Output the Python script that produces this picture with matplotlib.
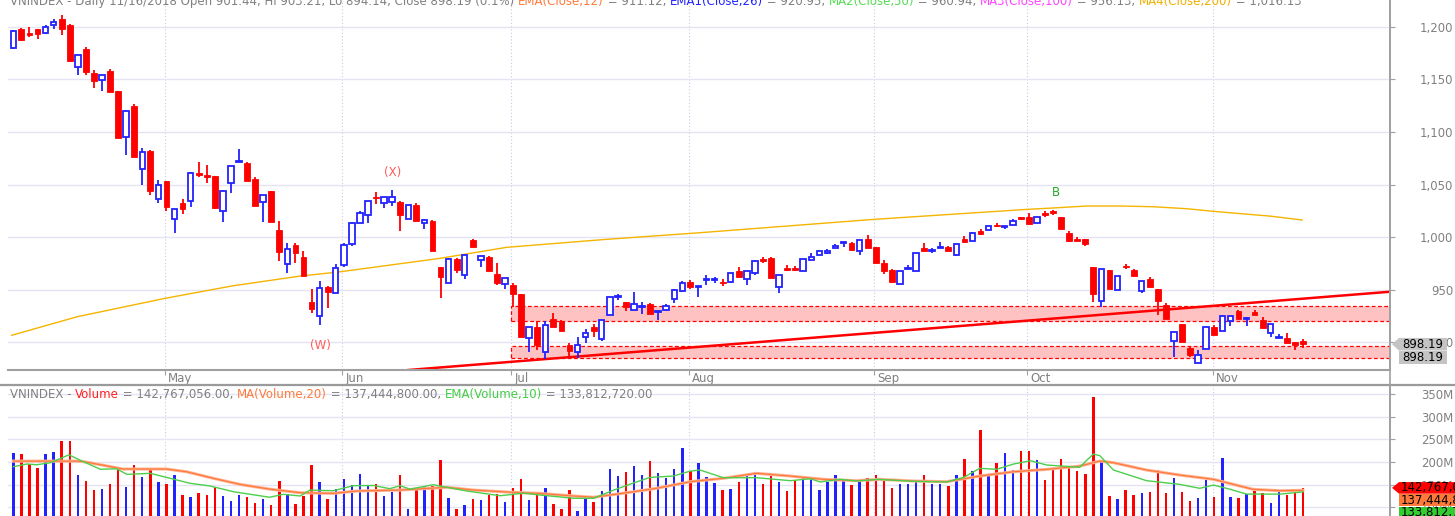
import matplotlib
matplotlib.use("Agg")
import matplotlib.pyplot as plt
from matplotlib.patches import Rectangle, Polygon
from matplotlib.lines import Line2D
from matplotlib.ticker import FuncFormatter
import numpy as np

# ---------------- data ----------------
opens = [1180, 1197.5, 1193.7, 1197.5, 1193.7, 1202, 1207.6, 1201.9, 1162, 1178.5,
         1156.3, 1149.3, 1158.2, 1138.6, 1095.5, 1124.6, 1064.4, 1082.2, 1036.5, 1053,
         1017.5, 1032.1, 1034, 1060.6, 1058.7, 1058.1, 1025.1, 1051.1, 1071.6, 1070.7,
         1055.6, 1033.4, 1043.6, 1006.7, 974.4, 992.2, 981.4, 938.3, 925.5, 952.8,
         947.1, 973.2, 993.4, 1013.5, 1020.7, 1038.5, 1032.1, 1033.4, 1033.4, 1017.5,
         1030.2, 1013, 1015.6, 971.3, 956.7, 979.5, 963.7, 997.3, 978.2, 981.4,
         964.9, 955.4, 954.7, 945.9, 903.8, 914.2, 890.8, 922.5, 920, 897.7,
         890.8, 904.8, 914.2, 903.4, 925.6, 942.8, 938.3, 930.7, 933.8, 936.4,
         928.8, 930.7, 940.8, 948.5, 957.3, 952.8, 959.2, 959.2, 957.3, 957.3,
         968.1, 960.5, 966.2, 979.5, 980.2, 952.3, 970.6, 970.6, 968.1, 978.2,
         983.3, 985.2, 989.6, 994.1, 994.7, 987.1, 998.5, 990.3, 975.1, 968.7,
         955.4, 969.4, 968.1, 989.6, 986.5, 989.6, 990.9, 982.6, 998.5, 996.6,
         1006.1, 1006.7, 1011.8, 1009.3, 1011.8, 1018.8, 1019.4, 1013.7, 1022.6, 1025.1,
         1019.4, 1004.2, 998.5, 997.9, 971.3, 939.1, 968.7, 949.7, 972.5, 968.7,
         949.1, 960.5, 950.4, 935.2, 901.5, 917.4, 894.3, 880.6, 893.4, 914.2,
         910.5, 920, 930.2, 921.9, 928.8, 921.2, 908.6, 904.1, 904.1, 900.3,
         901.44]

highs = [1197, 1199, 1200, 1198, 1201.3, 1207, 1210.8, 1202.5, 1173.4, 1180.4,
         1158.8, 1154.5, 1159.5, 1139, 1120.5, 1126.5, 1084.7, 1082.5, 1054.3, 1053.5,
         1026.5, 1036, 1061.5, 1071.4, 1068.8, 1058.5, 1044.5, 1067.5, 1083.5, 1071,
         1057.5, 1040.3, 1044, 1015, 994, 994.7, 986.5, 950.4, 958, 953.5,
         974.4, 994, 1014, 1024.8, 1034.3, 1042.9, 1038.5, 1044.8, 1034, 1030.2,
         1032, 1017.5, 1016, 972, 980, 980, 983, 998, 982, 982.5,
         975.1, 960.9, 956, 946, 914.8, 920.5, 920, 928.1, 921.5, 899,
         904.8, 913, 917.4, 921.2, 942.8, 945.9, 938.5, 947.8, 938.3, 937,
         929.4, 936.4, 951, 958.5, 959.2, 953.5, 964.3, 962.4, 959.9, 965.6,
         971.8, 968.1, 978.2, 980.8, 980.8, 963.7, 973.8, 972.5, 979, 985.2,
         987.7, 988.4, 993.4, 994.8, 995, 997.5, 1002.3, 990.5, 978.2, 969.9,
         968.1, 973.2, 984.6, 994.7, 989.6, 995.3, 991.5, 993.5, 1001, 1004.5,
         1007.4, 1010.8, 1013.7, 1009.9, 1016.9, 1019.4, 1023.3, 1019.5, 1024.5, 1025.7,
         1019.5, 1005.5, 999.8, 998, 971.5, 970.1, 969, 963, 974.4, 969.9,
         958, 962.4, 950.5, 937.6, 909.8, 917.5, 896.5, 892.7, 914.2, 916.1,
         926.3, 925, 930.5, 923.8, 930.7, 924.4, 917.4, 907.9, 908.6, 900.5,
         903.21]

lows = [1179, 1186, 1190.5, 1188, 1193, 1198, 1192.4, 1166.5, 1153.8, 1154.4,
        1141.7, 1139.2, 1137.5, 1094, 1078.3, 1076, 1049.8, 1040.3, 1032.1, 1025.1,
        1003.6, 1022, 1028.9, 1057.4, 1051.7, 1026.5, 1014.3, 1042.2, 1071.2, 1053,
        1029.6, 1014.3, 1014, 977, 966.2, 975.1, 963, 927.6, 916.2, 932.6,
        946.5, 972, 992, 1013, 1013.7, 1031.5, 1027.6, 1029.6, 1005.5, 1017,
        1015, 1007.4, 987, 942, 956, 966.2, 960, 990.3, 971.3, 968.1,
        954.7, 950.4, 933.8, 905, 890.8, 892.7, 884.4, 914.8, 910.5, 886.4,
        885, 899.6, 905.4, 901.5, 925.6, 940, 930, 930.5, 926.9, 926.9,
        921.2, 929.5, 937.6, 948, 951, 943.3, 954.2, 956.7, 953.5, 956.1,
        962.4, 954.7, 963.7, 975.1, 961, 947.1, 968, 967.5, 968, 978,
        982.6, 984, 989.5, 990.3, 987.5, 982.6, 989.5, 975.5, 964.9, 957,
        955, 969.3, 968, 987.1, 985.2, 989.5, 987.1, 982.5, 995, 996.5,
        1002.3, 1006.5, 1009.9, 1007.4, 1011.5, 1016.5, 1012.4, 1013.5, 1018.8, 1021.3,
        1007.4, 995.3, 996, 991.5, 938.3, 933.8, 950.9, 949.5, 969.4, 963,
        946.6, 952.8, 926.3, 922.4, 885.7, 900.3, 885.7, 880.5, 893.3, 907.2,
        910.4, 915.5, 921.9, 915.5, 926.3, 913.6, 904.8, 904, 899.6, 892.7,
        894.14]

closes = [1196, 1187.4, 1191.8, 1193, 1200, 1204.5, 1198, 1167.1, 1173.4, 1156.9,
          1148.1, 1153.8, 1137.9, 1094.2, 1120.2, 1076.4, 1080.9, 1044.1, 1049.8, 1028.3,
          1026.4, 1026.4, 1061.3, 1059.3, 1056.8, 1027.7, 1044.1, 1067.2, 1072.6, 1053.6,
          1029.6, 1040.3, 1014.3, 985.8, 989, 985.2, 963, 931.4, 951.6, 947.8,
          970.6, 992.2, 1013.7, 1023, 1034.3, 1036.9, 1038.5, 1038.5, 1020.7, 1030.2,
          1015, 1016.3, 987.1, 962.4, 979.6, 968.7, 982.6, 990.3, 982, 968.1,
          956.7, 960.9, 945.9, 905.3, 914.8, 897.7, 916.7, 914.8, 910.5, 892,
          897.7, 909.2, 910.5, 921.2, 942.8, 943.3, 933.3, 936.4, 934.5, 926.9,
          929.4, 934.5, 949.7, 956.7, 952.8, 953.5, 959.9, 959.9, 956.1, 965.6,
          962.4, 968.1, 977.6, 977.6, 961.2, 963.7, 968.7, 968.7, 978.9, 981.4,
          987.1, 986.5, 991.5, 994.7, 987.7, 997.3, 989.6, 975.7, 967.5, 957.3,
          968.1, 970.1, 984.6, 987.1, 987.1, 990.9, 987.1, 993.4, 995.3, 1004.2,
          1002.9, 1010.6, 1010.6, 1009.9, 1015.6, 1016.9, 1012.4, 1019.4, 1021.3, 1023.2,
          1007.4, 996, 996, 993.4, 945.9, 970.1, 950.9, 963, 971.3, 963,
          958, 952.8, 939.1, 922.4, 909.8, 900.3, 888.2, 888.2, 914.2, 907.2,
          925, 925, 921.9, 922.5, 926.3, 913.6, 917.4, 904.8, 899.6, 897.1,
          898.19]

volumes_m = [220.6, 218, 195, 187, 218, 222, 246, 246, 170.5, 158.7,
             138.7, 140, 152, 185, 144.7, 194, 166.8, 183.8, 155, 152,
             171, 126, 122, 132, 126, 144.7, 124.8, 114.4, 126.7, 122.6,
             108.6, 118, 104, 158, 128.5, 106.4, 124.8, 192.6, 156.5, 118,
             140, 162.4, 148.4, 174, 148.4, 152, 124.8, 134, 170.5, 96,
             138, 147, 147, 204.4, 121, 95.6, 104.9, 118.8, 116.6, 126,
             130, 110.8, 142.5, 162.4, 116.6, 130, 141.8, 106.4, 95.6, 138.7,
             92.3, 122.6, 112, 136.5, 184.5, 169, 178.5, 190.5, 171, 202.2,
             176.4, 165.3, 184.5, 230.3, 180.8, 198.5, 166.8, 154.2, 138.7, 140,
             156.5, 172, 178.5, 150.6, 169.7, 156.5, 136.5, 160, 166, 166,
             138.7, 155, 172, 160, 148.4, 156.5, 164, 172, 162.4, 142.5,
             152, 150.6, 160, 170.5, 150.6, 150.6, 147, 172, 206.6, 180,
             272, 170.5, 198.5, 220.6, 182.3, 224.3, 224.3, 203.7, 160, 183.8,
             206.6, 187.4, 180, 172.7, 344.5, 204.4, 124.8, 118, 138.7, 126,
             132, 134, 182.3, 132, 164.6, 134, 114.4, 121, 160, 122.6,
             208.2, 122.6, 121, 128.5, 136.5, 132, 108.6, 134, 126, 136.5,
             142.767]

# MA(Close,200) read at a set of bar positions
ma200_x = [-0.2, 7.9, 18.8, 27.3, 35.6, 40.5, 52.9, 61.2, 73.6, 85.2, 107, 125.8,
           129, 133.2, 137.3, 141.4, 145.6, 148.9, 151.8, 155.9, 159.9]
ma200_v = [906.7, 924.3, 941.8, 953.8, 963, 967, 979.8, 990.3, 997.9, 1004.2, 1017, 1026.4,
           1027.7, 1029.6, 1029.6, 1028.9, 1027, 1024.5, 1022.6, 1020, 1016.3]

# MA(Volume,20) and EMA(Volume,10), millions, read at bar positions
vma_x = [0, 7.9, 8.7, 11, 13.6, 19, 21.5, 24.8, 28.1, 31.8, 35.6, 39.7, 42.6, 48, 53.8,
         57.1, 61.2, 65.3, 69.5, 72, 76.1, 79.8, 84, 88.1, 92.2, 96.4, 100.5, 104.6,
         107.5, 111.7, 115.8, 119.9, 124.1, 128.2, 132.3, 134.8, 136.5, 140.6, 144.7,
         148.9, 153.8, 157.2, 160]
vma_v = [202, 202, 201, 193.4, 184.5, 184.5, 178.5, 164, 150.6, 140, 132, 130.6, 135.8, 138, 144,
         138, 133.6, 130.6, 124.8, 122, 132, 141.8, 156.5, 164, 175, 169, 161.7, 158.7,
         161.7, 158, 156.5, 169, 178.5, 183.8, 191, 202.2, 198.5, 182.3, 171.2,
         161.7, 139.6, 136.5, 137.44]
vema_x = [0, 1.7, 2.9, 4.6, 6.9, 8.7, 10.8, 12.8, 14.1, 17, 19, 21.9, 24.4, 27.3, 31.8, 33.5,
          35.6, 36.8, 39.7, 42.2, 44.7, 46.7, 48, 49.2, 52.1, 56.2, 60.4, 63.3, 65.3, 69.5,
          72, 74.5, 77, 79, 81.9, 84, 85.2, 88.1, 92.2, 96.4, 98.9, 100.1, 102.6, 104.6,
          107.3, 111.7, 115.8, 117.9, 119.9, 122, 124.1, 126.2, 128.2, 132.3, 133.2, 134,
          134.8, 136.5, 140.6, 144.7, 147.2, 148.9, 150.9, 153, 157.2, 160]
vema_v = [189.7, 195.6, 194, 198.5, 216, 200.7, 184, 185, 172.7, 175, 166, 153, 147, 134.3, 122, 128.5,
          124.8, 138, 136.5, 147.6, 148, 141, 147.6, 140, 149.8, 136, 125.4, 131, 127, 119.7,
          119.7, 138, 154, 166, 169, 180, 182.3, 165.3, 165.3, 158.7, 163, 155.8, 161.7, 158,
          161.7, 157.3, 155.8, 166, 186, 184, 195.6, 202.9, 193.4, 188.3, 204.4, 217.7,
          214, 182.3, 158.7, 150.6, 141.8, 149, 140, 129, 129, 133.81]

# trend line anchors and support/resistance zones
trend_pts = [(85.2, 895.8), (170.8, 948.1)]
zone_start = 61.75
zones = [(920.3, 934.2), (884.8, 896.5)]

month_pos = [18.8, 40.8, 61.8, 83.8, 106.8, 125.8, 148.8]
month_names = ["May", "Jun", "Jul", "Aug", "Sep", "Oct", "Nov"]

price_ticks = [900, 950, 1000, 1050, 1100, 1150, 1200]
vol_ticks = [100, 150, 200, 250, 300, 350]

wave_labels = [("(W)", 38.05, 897.4, "#ff5a5a"), ("(X)", 47.0, 1061.2, "#ff5a5a"),
               ("B", 129.3, 1042.2, "#22aa22")]

last_close = 898.19
last_vol, last_vma, last_vema = 142.767, 137.4448, 133.81272

# ---------------- figure ----------------
W, H = 1455, 516
fig = plt.figure(figsize=(W / 100, H / 100), dpi=100)
fig.patch.set_facecolor("white")


def px_axes(x0, y0, x1, y1, **kw):
    return fig.add_axes([x0 / W, 1 - y1 / H, (x1 - x0) / W, (y1 - y0) / H], **kw)


AX_L, AX_R, P_TOP, P_BOT, V_TOP, V_BOT = 8, 1390, 0, 370, 385, 516
ax = px_axes(AX_L, P_TOP, AX_R, P_BOT)
axv = px_axes(AX_L, V_TOP, AX_R, V_BOT)

XMIN, XMAX = -0.66, 170.8
P_LO, P_HI = 873.7, 1225.4
V_LO, V_HI = 80.5, 370.6

BLUE = "#2222ff"
RED = "#ff0000"
GRAY = "#808080"
GRID = "#e4e4f4"
FS = 8.5

o = np.array(opens); h = np.array(highs); l = np.array(lows); c = np.array(closes)
vol = np.array(volumes_m)
assert len(o) == len(h) == len(l) == len(c) == len(vol)
idx = np.arange(len(o))
up = c >= o

for a in (ax, axv):
    a.set_xlim(XMIN, XMAX)
    a.set_facecolor("white")
    for s in ("top", "left"):
        a.spines[s].set_visible(False)
    a.spines["right"].set_color("#a0a0a0")
    a.spines["right"].set_linewidth(1.2)
    a.set_xticks(month_pos)
    a.grid(axis="x", color="#c8c8e6", lw=0.8, ls=(0, (1, 2)))
    a.grid(axis="y", color=GRID, lw=1.0, ls="-")
    a.set_axisbelow(True)
    a.yaxis.tick_right()
    a.tick_params(axis="y", which="both", right=True, left=False, labelright=True,
                  labelleft=False, length=3.6, pad=41.76, color="#a0a0a0",
                  labelcolor=GRAY, labelsize=FS)

ax.spines["bottom"].set_color("#a0a0a0")
ax.spines["bottom"].set_linewidth(1.5)
axv.spines["bottom"].set_visible(False)
ax.tick_params(axis="x", length=3.6, color="#a0a0a0", labelbottom=False)
axv.tick_params(axis="x", length=0, labelbottom=False)

# price panel
ax.set_ylim(P_LO, P_HI)
ax.set_yticks(price_ticks)
ax.yaxis.set_major_formatter(FuncFormatter(lambda v, p: f"{v:,.0f}"))
for t in ax.get_yticklabels():
    t.set_horizontalalignment("right")

for lo_, hi_ in zones:
    ax.add_patch(Rectangle((zone_start, lo_), XMAX + 1 - zone_start, hi_ - lo_,
                           facecolor="#ffc2c2", edgecolor=RED, lw=0.9, ls=(0, (3, 2)),
                           zorder=1.5))

ax.plot(ma200_x, ma200_v, color="#f5b400", lw=1.0, zorder=2)
ax.axline(trend_pts[0], trend_pts[1], color=RED, lw=1.8, zorder=2.5)

wick_cols = [BLUE if u else RED for u in up]
ax.vlines(idx, l, h, colors=wick_cols, lw=1.3, zorder=3)
body_lo = np.minimum(o, c)
body_h = np.maximum(np.abs(c - o), 0.9)
ax.bar(idx[up], body_h[up], bottom=body_lo[up], width=0.68, facecolor="white",
       edgecolor=BLUE, linewidth=1.3, zorder=4)
ax.bar(idx[~up], body_h[~up], bottom=body_lo[~up], width=0.72, facecolor=RED,
       edgecolor=RED, linewidth=0.6, zorder=4)

for txt, xi, yv, col in wave_labels:
    ax.text(xi, yv, txt, ha="center", va="center", color=col, fontsize=FS, zorder=5)

for pos, name in zip(month_pos, month_names):
    ax.annotate(name, xy=(pos, 0), xycoords=("data", "axes fraction"), xytext=(3, -2),
                textcoords="offset pixels", ha="left", va="top", fontsize=FS, color=GRAY,
                annotation_clip=False)

# volume panel
axv.set_ylim(V_LO, V_HI)
axv.set_yticks(vol_ticks)
axv.yaxis.set_major_formatter(FuncFormatter(lambda v, p: f"{v:.0f}M"))
for t in axv.get_yticklabels():
    t.set_horizontalalignment("right")
axv.bar(idx, vol, width=0.3, bottom=0, color=[BLUE if u else RED for u in up], zorder=3)
axv.plot(vma_x, vma_v, color="#ffb497", lw=2.2, zorder=4)
axv.plot(vma_x, vma_v, color="#ff7a3a", lw=0.9, zorder=4)
axv.plot(vema_x, vema_v, color="#4ccf4c", lw=1.0, zorder=5)

# frame lines
fig.add_artist(Line2D([0, 1], [1 - 385 / H] * 2, transform=fig.transFigure,
                      color="#9a9a9a", lw=1.6))
fig.add_artist(Line2D([AX_R / W] * 2, [0, 1], transform=fig.transFigure,
                      color="#a0a0a0", lw=1.2))

# headers (multi-coloured pieces)
renderer = fig.canvas.get_renderer()


def pieces(parts, x0, ybase):
    x = x0
    for txt, col in parts:
        t = fig.text(x / W, 1 - ybase / H, txt, color=col, fontsize=FS,
                     ha="left", va="baseline")
        x += t.get_window_extent(renderer).width


pieces([("VNINDEX - Daily 11/16/2018 Open 901.44, Hi 903.21, Lo 894.14, Close 898.19 (0.1%) ", GRAY),
        ("EMA(Close,12)", "#ff7a3a"), (" = 911.12, ", GRAY),
        ("EMA1(Close,26)", "#2222ff"), (" = 920.95, ", GRAY),
        ("MA2(Close,50)", "#55dd55"), (" = 960.94, ", GRAY),
        ("MA3(Close,100)", "#ff44ff"), (" = 956.13, ", GRAY),
        ("MA4(Close,200)", "#f0b000"), (" = 1,016.13", GRAY)], 10, 4.5)

pieces([("VNINDEX - ", GRAY), ("Volume", "#ff2020"), (" = 142,767,056.00, ", GRAY),
        ("MA(Volume,20)", "#ff7a3a"), (" = 137,444,800.00, ", GRAY),
        ("EMA(Volume,10)", "#44cc44"), (" = 133,812,720.00", GRAY)], 10, 398)

# value tags in right margin
ov = fig.add_axes([0, 0, 1, 1], zorder=10)
ov.set_xlim(0, W)
ov.set_ylim(H, 0)
ov.axis("off")
ov.patch.set_alpha(0)


def py(v):
    return P_TOP + (P_HI - v) / (P_HI - P_LO) * (P_BOT - P_TOP)


def vy(v):
    return V_TOP + (V_HI - v) / (V_HI - V_LO) * (V_BOT - V_TOP)


def tag(yc, col, text, arrow, x1=1447, hh=6.3):
    xs = 1399
    if arrow:
        pts = [(1392, yc), (xs, yc - hh), (x1, yc - hh), (x1, yc + hh), (xs, yc + hh)]
    else:
        pts = [(xs, yc - hh), (x1, yc - hh), (x1, yc + hh), (xs, yc + hh)]
    ov.add_patch(Polygon(pts, closed=True, facecolor=col, edgecolor="none"))
    ov.text(xs + 2 if x1 > W else (xs + x1) / 2, yc, text,
            ha="left" if x1 > W else "center", va="center", fontsize=FS, color="black")


y0 = py(last_close)
tag(y0, "#c4c4c4", f"{last_close:.2f}", True)
tag(y0 + 13.5, "#c4c4c4", f"{last_close:.2f}", False)
yv0 = vy(last_vol)
tag(yv0, "#ff0000", f"{last_vol * 1e6:,.0f}", True, x1=1470, hh=5.8)
tag(yv0 + 12.3, "#ff7a3a", f"{last_vma * 1e6:,.0f}", False, x1=1470, hh=5.8)
tag(yv0 + 24.6, "#33cc33", f"{last_vema * 1e6:,.0f}", False, x1=1470, hh=5.8)

fig.savefig("out.png", dpi=100, facecolor="white")
